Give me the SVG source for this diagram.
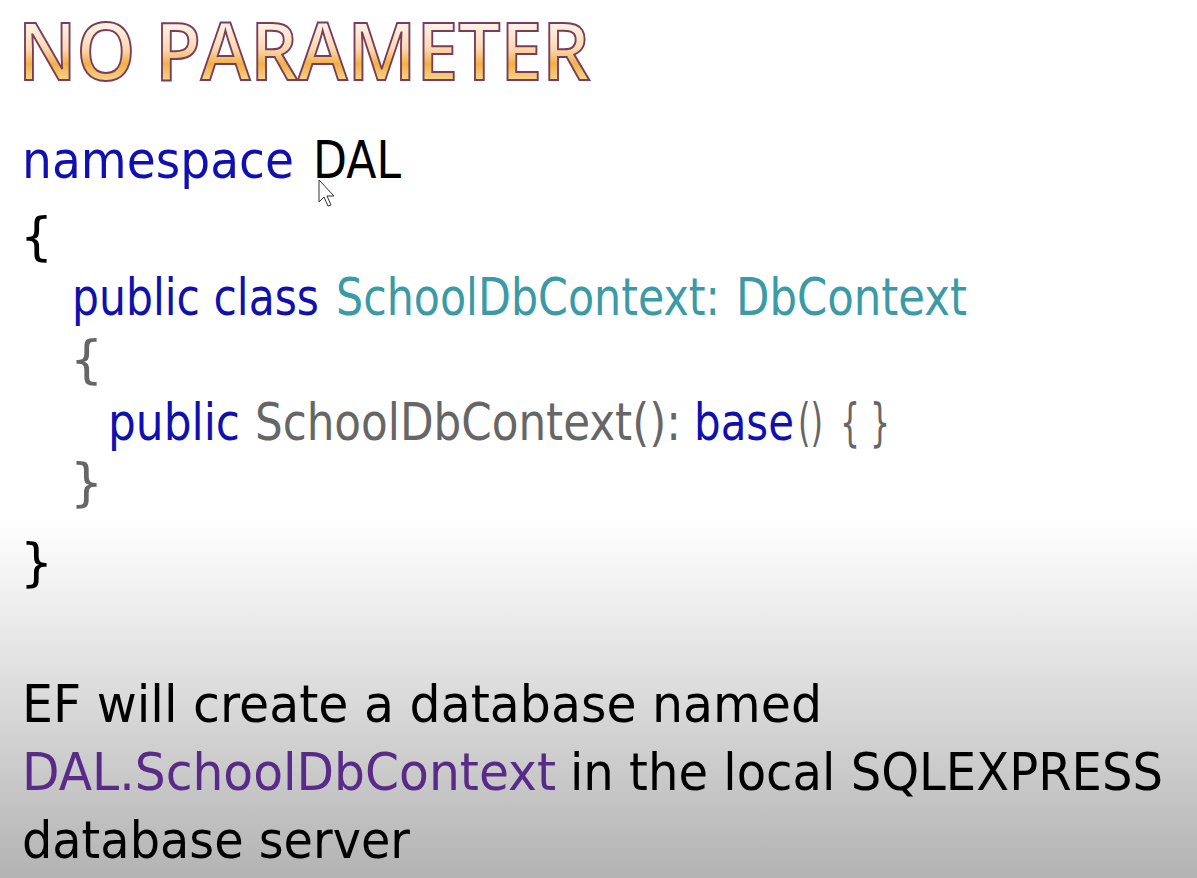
<svg xmlns="http://www.w3.org/2000/svg" width="1197" height="878" viewBox="0 0 1197 878">
<defs>
<linearGradient id="bg" x1="0" y1="0" x2="0" y2="878" gradientUnits="userSpaceOnUse">
<stop offset="0" stop-color="#ffffff"/>
<stop offset="0.59" stop-color="#ffffff"/>
<stop offset="0.75" stop-color="#e3e3e3"/>
<stop offset="1" stop-color="#b3b3b3"/>
</linearGradient>
<linearGradient id="tg" x1="0" y1="22" x2="0" y2="82" gradientUnits="userSpaceOnUse">
<stop offset="0" stop-color="#fff4ee"/>
<stop offset="0.45" stop-color="#f9d8b0"/>
<stop offset="0.7" stop-color="#f0b048"/>
<stop offset="1" stop-color="#f8d890"/>
</linearGradient>
<style>
text{font-family:"DejaVu Sans","Liberation Sans",sans-serif;font-size:52px}
.kw{fill:#1010b0}
.ty{fill:#3a9aa6}
.gr{fill:#666666}
.bk{fill:#000000}
.pu{fill:#5a2a88}
.title{font-family:"Open Sans","Liberation Sans",sans-serif;font-size:80px;font-weight:600;fill:url(#tg);stroke:#7a3c58;stroke-width:2px}
</style>
</defs>
<rect x="0" y="0" width="1197" height="878" fill="url(#bg)"/>

<g id="title">
<text class="title" x="18" y="80" textLength="572" lengthAdjust="spacingAndGlyphs">NO PARAMETER</text>
</g>

<g id="code">
<text class="kw" x="22" y="178" textLength="272" lengthAdjust="spacingAndGlyphs">namespace</text>
<text class="bk" x="313" y="178" textLength="88" lengthAdjust="spacingAndGlyphs">DAL</text>
<text class="bk" x="20" y="254">{</text>
<text class="kw" x="72" y="315" textLength="247" lengthAdjust="spacingAndGlyphs">public class</text>
<text class="ty" x="336" y="315" textLength="384" lengthAdjust="spacingAndGlyphs">SchoolDbContext:</text>
<text class="ty" x="736" y="315" textLength="231" lengthAdjust="spacingAndGlyphs">DbContext</text>
<text class="gr" x="70" y="377">{</text>
<text class="kw" x="108" y="440" textLength="132" lengthAdjust="spacingAndGlyphs">public</text>
<text class="gr" x="255" y="440" textLength="426" lengthAdjust="spacingAndGlyphs">SchoolDbContext():</text>
<text class="kw" x="694" y="440" textLength="100" lengthAdjust="spacingAndGlyphs">base</text>
<text class="gr" x="798" y="440" textLength="25" lengthAdjust="spacingAndGlyphs">()</text>
<text class="gr" x="840" y="440" textLength="50" lengthAdjust="spacingAndGlyphs">{ }</text>
<text class="gr" x="70" y="500">}</text>
<text class="bk" x="20" y="580">}</text>
</g>

<g id="cursor">
<polygon points="319,180 319,202 324,197 328,206 331,205 327,196 334,196" fill="#ffffff" stroke="#333333" stroke-width="1"/>
</g>

<g id="note">
<text class="bk" x="22" y="722" textLength="800" lengthAdjust="spacingAndGlyphs">EF will create a database named</text>
<text class="pu" x="22" y="790" textLength="534" lengthAdjust="spacingAndGlyphs">DAL.SchoolDbContext</text>
<text class="bk" x="570" y="790" textLength="593" lengthAdjust="spacingAndGlyphs">in the local SQLEXPRESS</text>
<text class="bk" x="22" y="858" textLength="388" lengthAdjust="spacingAndGlyphs">database server</text>
</g>
</svg>
